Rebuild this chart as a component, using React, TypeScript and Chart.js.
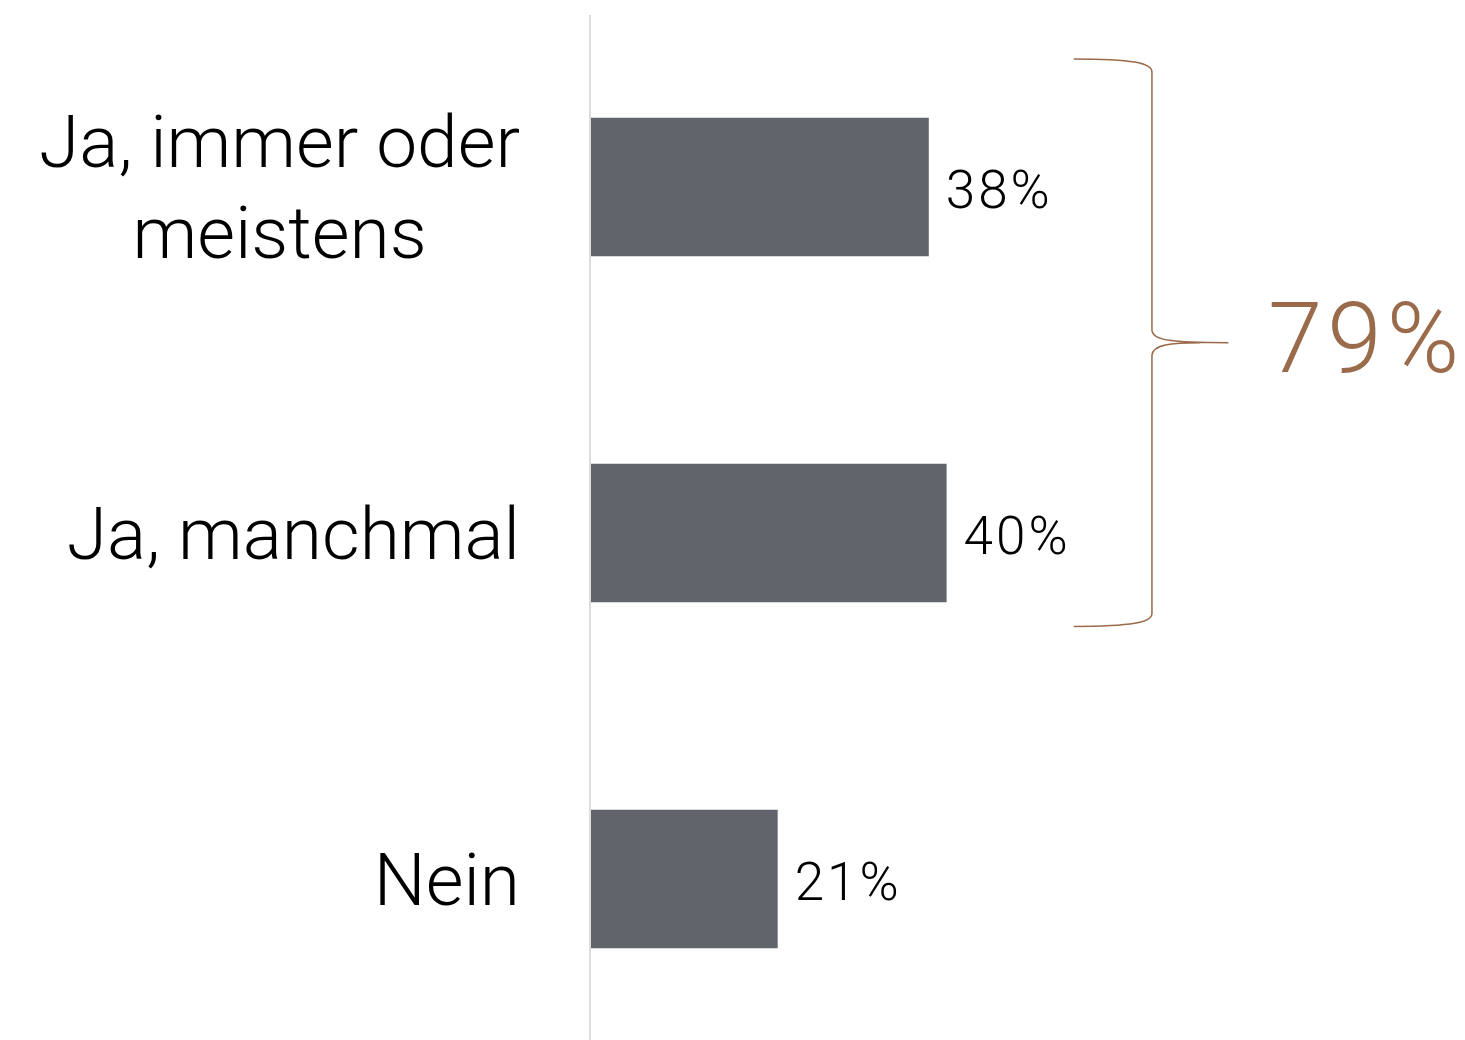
import React, { useEffect, useRef } from "react";
import { Chart, registerables } from "chart.js";

Chart.register(...registerables);

const categories: string[][] = [["Ja, immer oder", "meistens"], ["Ja, manchmal"], ["Nein"]];
const values: number[] = [38, 40, 21];
const valueLabels: string[] = ["38%", "40%", "21%"];
const totalLabel = "79%";

const FONT = "Roboto";
const BAR_COLOR = "#62646c";
const ACCENT = "#9a6b4b";

const overlayPlugin = {
  id: "overlay",
  afterDatasetsDraw(chart: any) {
    const ctx = chart.ctx;
    const xs = chart.scales.x;
    const ys = chart.scales.y;
    const x0 = xs.getPixelForValue(0);
    ctx.save();
    // axis line
    ctx.fillStyle = "#dcdcdc";
    ctx.fillRect(x0 - 2, 7, 2, chart.height);

    // category labels
    ctx.fillStyle = "#000";
    ctx.font = `300 73px ${FONT}`;
    const right = x0 - 71;
    categories.forEach((lines, i) => {
      const cy = ys.getPixelForValue(i);
      const widths = lines.map((l) => ctx.measureText(l).width);
      const w = Math.max(...widths);
      const cx = right - w / 2;
      ctx.textAlign = "center";
      ctx.textBaseline = "alphabetic";
      if (lines.length === 1) {
        ctx.fillText(lines[0], cx, cy + 26);
      } else {
        ctx.fillText(lines[0], cx, cy - 20);
        ctx.fillText(lines[1], cx, cy + 71);
      }
    });

    // value labels
    ctx.font = `300 53px ${FONT}`;
    ctx.textAlign = "left";
    (ctx as any).letterSpacing = "3px";
    values.forEach((v, i) => {
      const x = xs.getPixelForValue(v) + 17;
      const y = ys.getPixelForValue(i) + 21;
      ctx.fillText(valueLabels[i], x, y);
    });

    // bracket
    const xa = xs.getPixelForValue(54.3);
    const xb = xs.getPixelForValue(63.1);
    const xt = xs.getPixelForValue(71.7);
    const yTop = ys.getPixelForValue(-0.37);
    const yBot = ys.getPixelForValue(1.27);
    const yTip = ys.getPixelForValue(0.45);
    const r = 13;
    ctx.strokeStyle = ACCENT;
    ctx.lineWidth = 1.5;
    ctx.beginPath();
    ctx.moveTo(xa, yTop);
    ctx.bezierCurveTo(xb - 20, yTop, xb, yTop + 4, xb, yTop + r);
    ctx.lineTo(xb, yTip - r);
    ctx.bezierCurveTo(xb, yTip - 2, xb + 20, yTip, xt, yTip);
    ctx.moveTo(xt - (xt - xb) / 2 + 10, yTip);
    ctx.bezierCurveTo(xb + 20, yTip, xb, yTip + 2, xb, yTip + r);
    ctx.lineTo(xb, yBot - r);
    ctx.bezierCurveTo(xb, yBot - 4, xb - 20, yBot, xa, yBot);
    ctx.stroke();

    // total label
    ctx.fillStyle = ACCENT;
    ctx.font = `300 98px ${FONT}`;
    (ctx as any).letterSpacing = "5px";
    ctx.textAlign = "left";
    ctx.fillText(totalLabel, xs.getPixelForValue(76.15), ys.getPixelForValue(0.535));
    ctx.restore();
  },
};

export default function App() {
  const ref = useRef<HTMLCanvasElement | null>(null);
  useEffect(() => {
    if (!ref.current) return;
    const chart = new Chart(ref.current, {
      type: "bar",
      data: {
        labels: categories.map((c) => c.join(" ")),
        datasets: [
          {
            data: values,
            backgroundColor: BAR_COLOR,
            borderWidth: 0,
            barPercentage: 0.4,
            categoryPercentage: 1,
          },
        ],
      },
      options: {
        indexAxis: "y",
        animation: false,
        responsive: false,
        maintainAspectRatio: false,
        layout: { padding: { left: 583, right: 3.7, top: 6, bottom: 6 } },
        plugins: { legend: { display: false }, tooltip: { enabled: false } },
        scales: {
          x: { display: false, min: 0, max: 97 },
          y: { display: false },
        },
      },
      plugins: [overlayPlugin],
    });
    return () => chart.destroy();
  }, []);
  return (
    <div style={{ width: 1449, height: 1032, overflow: "hidden", position: "relative" }}>
      <canvas ref={ref} width={1449} height={1050} style={{ display: "block" }} />
    </div>
  );
}
